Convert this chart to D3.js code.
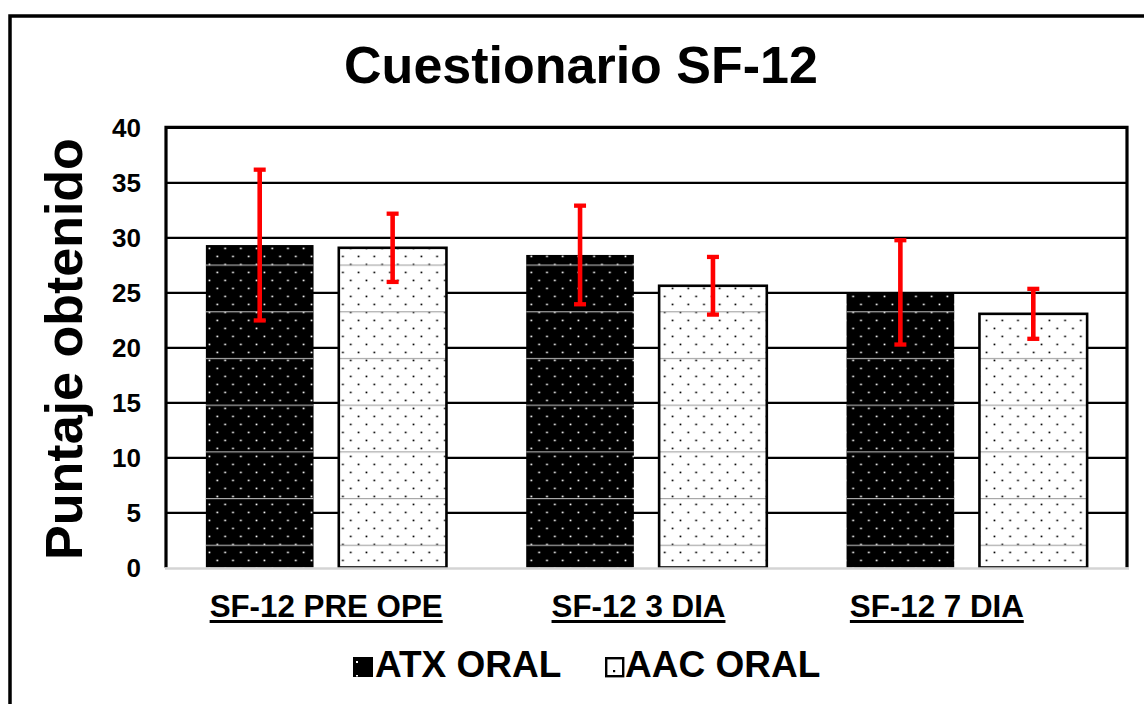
<!DOCTYPE html>
<html>
<head>
<meta charset="utf-8">
<script src="https://cdn.jsdelivr.net/npm/d3@7"></script>
<style>
	html,body{margin:0;padding:0;background:#fff;}
	svg{display:block;}
	text{font-family:"Liberation Sans",Arial,sans-serif;font-weight:bold;fill:#000;}
</style>
</head>
<body>
<script>
(function(){
	//Data
	var categories = ["SF-12 PRE OPE","SF-12 3 DIA","SF-12 7 DIA"];
	var seriesNames = ["ATX ORAL","AAC ORAL"];
	var atxMeans = [29.3,28.4,25.0];
	var atxSD = [6.85,4.48,4.74];
	var aacMeans = [29.05,25.6,23.05];
	var aacSD = [3.1,2.62,2.27];
	var yTicks = [0,5,10,15,20,25,30,35,40];

	//Layout
	const Config = {
		svg: {Width: 1144,Height: 704},
		plot: {left: 166,top: 127.3,right: 1127,bottom: 567.5},
		labelDx: [0,-8,-30]
	};

	var svg = d3.select('body')
			.append('svg')
			.attr('width',Config.svg.Width)
			.attr('height',Config.svg.Height);

	var defs = svg.append('defs');
	//dot patterns
	function dots(id,bg,fg){
		var p = defs.append('pattern')
			.attr('id',id)
			.attr('patternUnits','userSpaceOnUse')
			.attr('x',208).attr('y',247)
			.attr('width',15.7).attr('height',16);
		p.append('rect').attr('width',15.7).attr('height',16).attr('fill',bg);
		p.append('rect').attr('x',0.6).attr('y',0.6).attr('width',1.7).attr('height',1.7).attr('fill',fg);
		p.append('rect').attr('x',8.45).attr('y',8.6).attr('width',1.7).attr('height',1.7).attr('fill',fg);
	}
	dots('dotsDark','#000','#fff');
	dots('dotsLight','#fff','#000');
	var seam = defs.append('pattern')
		.attr('id','seams')
		.attr('patternUnits','userSpaceOnUse')
		.attr('x',0).attr('y',264.5)
		.attr('width',20).attr('height',46.7);
	seam.append('rect').attr('width',20).attr('height',1.2).attr('fill','#a8a8a8');

	//outer frame
	svg.append('rect')
		.attr('x',10).attr('y',16)
		.attr('width',1300).attr('height',900)
		.attr('fill','none').attr('stroke','#000').attr('stroke-width',3.5);

	//title
	svg.append('text')
		.attr('x',581).attr('y',83)
		.attr('text-anchor','middle')
		.style('font-size','52px')
		.text('Cuestionario SF-12');

	var P = Config.plot;
	var scaleY = d3.scaleLinear().domain([0,40]).range([P.bottom,P.top]);
	var scaleX = d3.scaleBand().domain(categories).range([P.left,P.right]).padding(0);
	var scaleS = d3.scaleBand().domain(seriesNames).range([0,scaleX.bandwidth()])
		.paddingInner(0.19).paddingOuter(0.3);

	//gridlines
	svg.append('g')
		.attr('transform','translate('+P.left+',0)')
		.call(d3.axisLeft(scaleY).tickValues(yTicks.filter(function(d){return d>0 && d<40;})).tickSize(-(P.right-P.left)).tickFormat(''))
		.call(function(g){
			g.select('.domain').remove();
			g.selectAll('line').attr('stroke','#000').attr('stroke-width',2.2);
		});

	//tick labels
	svg.append('g')
		.attr('transform','translate('+(P.left-25)+',0)')
		.call(d3.axisLeft(scaleY).tickValues(yTicks).tickSize(0).tickPadding(0))
		.call(function(g){
			g.select('.domain').remove();
			g.selectAll('text')
				.attr('dy','0.36em')
				.style('font-size','26px')
				.style('font-family','"Liberation Sans",Arial,sans-serif')
				.style('font-weight','bold')
				.attr('fill','#000');
		});

	//bars
	var rows = [];
	categories.forEach(function(c,i){
		rows.push({cat:c,s:seriesNames[0],v:atxMeans[i],sd:atxSD[i]});
		rows.push({cat:c,s:seriesNames[1],v:aacMeans[i],sd:aacSD[i]});
	});
	var bars = svg.append('g');
	bars.selectAll('.bar')
		.data(rows)
		.enter().append('rect')
			.attr('class','bar')
			.attr('x',function(d){return scaleX(d.cat)+scaleS(d.s);})
			.attr('y',function(d){return scaleY(d.v);})
			.attr('width',scaleS.bandwidth())
			.attr('height',function(d){return scaleY(0)-scaleY(d.v);})
			.attr('fill',function(d){return d.s===seriesNames[0]?'url(#dotsDark)':'url(#dotsLight)';});
	bars.selectAll('.seam')
		.data(rows)
		.enter().append('rect')
			.attr('class','seam')
			.attr('x',function(d){return scaleX(d.cat)+scaleS(d.s);})
			.attr('y',function(d){return scaleY(d.v)+4;})
			.attr('width',scaleS.bandwidth())
			.attr('height',function(d){return scaleY(0)-scaleY(d.v)-4;})
			.attr('fill','url(#seams)');
	bars.selectAll('.edge')
		.data(rows.filter(function(d){return d.s===seriesNames[1];}))
		.enter().append('rect')
			.attr('class','edge')
			.attr('x',function(d){return scaleX(d.cat)+scaleS(d.s);})
			.attr('y',function(d){return scaleY(d.v);})
			.attr('width',scaleS.bandwidth())
			.attr('height',function(d){return scaleY(0)-scaleY(d.v);})
			.attr('fill','none')
			.attr('stroke','#000')
			.attr('stroke-width',2.6);

	//error bars
	var err = svg.append('g').attr('stroke','#ff0000');
	var cx = function(d){return scaleX(d.cat)+scaleS(d.s)+scaleS.bandwidth()/2;};
	err.selectAll('.stem')
		.data(rows)
		.enter().append('line')
			.attr('x1',cx).attr('x2',cx)
			.attr('y1',function(d){return scaleY(d.v+d.sd);})
			.attr('y2',function(d){return scaleY(d.v-d.sd);})
			.attr('stroke-width',4.6);
	[1,-1].forEach(function(k){
		err.selectAll('.cap'+k)
			.data(rows)
			.enter().append('line')
				.attr('x1',function(d){return cx(d)-6;})
				.attr('x2',function(d){return cx(d)+6;})
				.attr('y1',function(d){return scaleY(d.v+k*d.sd);})
				.attr('y2',function(d){return scaleY(d.v+k*d.sd);})
				.attr('stroke-width',4.3);
	});

	//plot frame
	svg.append('path')
		.attr('d','M'+P.left+','+P.bottom+'V'+P.top+'H'+P.right+'V'+P.bottom)
		.attr('fill','none').attr('stroke','#000').attr('stroke-width',3.2);
	svg.append('line')
		.attr('x1',P.left-1).attr('x2',P.right+2)
		.attr('y1',P.bottom+1).attr('y2',P.bottom+1)
		.attr('stroke','#d4d4d4').attr('stroke-width',2.6);

	//category labels, underlined
	var xl = svg.append('g');
	categories.forEach(function(c,i){
		var t = xl.append('text')
			.attr('x',scaleX(c)+scaleX.bandwidth()/2+Config.labelDx[i])
			.attr('y',617)
			.attr('text-anchor','middle')
			.style('font-size','31.3px')
			.text(c);
		var b = t.node().getBBox();
		xl.append('rect')
			.attr('x',b.x).attr('y',620)
			.attr('width',b.width).attr('height',3)
			.attr('fill','#000');
	});

	//y title
	svg.append('text')
		.attr('transform','translate(82,349) rotate(-90)')
		.attr('text-anchor','middle')
		.style('font-size','52px')
		.text('Puntaje obtenido');

	//legend
	var legendX = [353,605];
	var leg = svg.append('g');
	seriesNames.forEach(function(s,i){
		var g = leg.append('g').attr('transform','translate('+legendX[i]+',657)');
		if(i===0){
			g.append('rect').attr('width',20).attr('height',20).attr('fill','#000');
			g.append('rect').attr('x',3).attr('y',4).attr('width',2).attr('height',2).attr('fill','#fff');
			g.append('rect').attr('x',3).attr('y',18).attr('width',2).attr('height',1.5).attr('fill','#fff');
		}else{
			g.append('rect').attr('x',1.2).attr('y',1.2).attr('width',17).attr('height',18)
				.attr('fill','#fff').attr('stroke','#000').attr('stroke-width',2.4);
			g.append('rect').attr('x',8).attr('y',13).attr('width',2.2).attr('height',2.2).attr('fill','#000');
		}
		g.append('text')
			.attr('x',i===0?22:20).attr('y',20)
			.style('font-size','37px')
			.text(s);
	});
})();
</script>
</body>
</html>
